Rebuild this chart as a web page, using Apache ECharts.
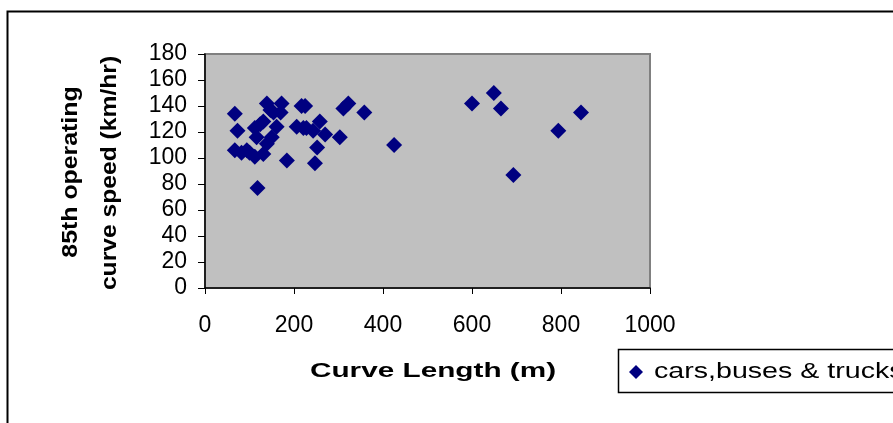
<!DOCTYPE html>
<html>
<head>
<meta charset="utf-8">
<script src="https://cdn.jsdelivr.net/npm/echarts@6/dist/echarts.min.js"></script>
<style>html,body{margin:0;padding:0;background:#fff}#c{width:893px;height:423px}</style>
</head>
<body>
<div id="c"></div>
<script>
// Curve length (m)
var curveLength = [67, 73, 67, 82, 94, 112, 131, 118, 184, 139, 172, 147, 154, 170, 124, 112, 161, 116, 150, 139, 206, 217, 225, 221, 228, 243, 258, 270, 303, 252, 247, 311, 322, 358, 425, 600, 649, 665, 693, 794, 845, 100, 131];
// 85th operating curve speed (km/hr)
var curveSpeed = [134, 121, 106, 104, 106, 101, 103, 77, 98, 142, 142, 137, 135, 135, 126, 123, 124, 116, 116, 111, 124, 140, 140, 123, 123, 121, 128, 118, 116, 108, 96, 138, 142, 135, 110, 142, 150, 138, 87, 121, 135, 104, 128];
var seriesName = 'cars,buses & trucks';
var xTicks = [0, 200, 400, 600, 800, 1000];
var yTicks = [0, 20, 40, 60, 80, 100, 120, 140, 160, 180];
var xTitle = 'Curve Length (m)';
var yTitleLines = ['85th operating', 'curve speed (km/hr)'];

var pts = curveLength.map(function (x, i) { return [x, curveSpeed[i]]; });
var FONT = '"Liberation Sans", Arial, sans-serif';

var chart = echarts.init(document.getElementById('c'), null, {renderer: 'canvas'});
chart.setOption({
  animation: false,
  backgroundColor: '#ffffff',
  grid: {
    left: 205, right: 243, top: 54, bottom: 135,
    show: true, backgroundColor: '#c0c0c0', borderColor: '#808080', borderWidth: 2
  },
  xAxis: {
    type: 'value', min: xTicks[0], max: xTicks[xTicks.length - 1], interval: 200,
    axisLine: {show: true, onZero: false, lineStyle: {color: '#000', width: 1.5}},
    axisTick: {show: true, length: 6, inside: false, lineStyle: {color: '#000'}},
    splitLine: {show: false},
    axisLabel: {margin: 26, fontSize: 23, color: '#000', fontFamily: FONT,
      formatter: function (v) { return String(v); }}
  },
  yAxis: {
    type: 'value', min: yTicks[0], max: yTicks[yTicks.length - 1], interval: 20,
    axisLine: {show: true, onZero: false, lineStyle: {color: '#000', width: 1.5}},
    axisTick: {show: true, length: 7, inside: false, lineStyle: {color: '#000'}},
    splitLine: {show: false},
    axisLabel: {margin: 18, fontSize: 23, color: '#000', fontFamily: FONT,
      formatter: function (v) { return String(v); }}
  },
  legend: {show: false, data: [seriesName]},
  series: [{
    name: seriesName,
    type: 'scatter',
    symbol: 'diamond',
    symbolSize: 16,
    itemStyle: {color: '#000080', opacity: 1},
    data: pts
  }],
  graphic: [
    {type: 'rect', left: 5, top: 9, silent: true, z: -1,
     shape: {width: 1000, height: 1000}, style: {fill: 'none', stroke: '#000', lineWidth: 2}},
    {type: 'text', x: 71, y: 172, rotation: Math.PI / 2, scaleX: 1.13,
     style: {text: yTitleLines[0], font: 'bold 22px ' + FONT, fill: '#000', textAlign: 'center', textVerticalAlign: 'middle'}},
    {type: 'text', x: 110, y: 173, rotation: Math.PI / 2, scaleX: 1.12,
     style: {text: yTitleLines[1], font: 'bold 22px ' + FONT, fill: '#000', textAlign: 'center', textVerticalAlign: 'middle'}},
    {type: 'text', x: 433, y: 371, scaleX: 1.45,
     style: {text: xTitle, font: 'bold 20.5px ' + FONT, fill: '#000', textAlign: 'center', textVerticalAlign: 'middle'}},
    // legend box
    {type: 'rect', shape: {x: 618.5, y: 349.5, width: 400, height: 43},
     style: {fill: '#fff', stroke: '#000', lineWidth: 1.5}},
    {type: 'polygon', shape: {points: [[636, 365], [643, 372], [636, 379], [629, 372]]},
     style: {fill: '#000080'}},
    {type: 'text', x: 654, y: 372, scaleX: 1.3,
     style: {text: seriesName, font: '22px ' + FONT, fill: '#000', textAlign: 'left', textVerticalAlign: 'middle'}}
  ]
});
</script>
</body>
</html>
